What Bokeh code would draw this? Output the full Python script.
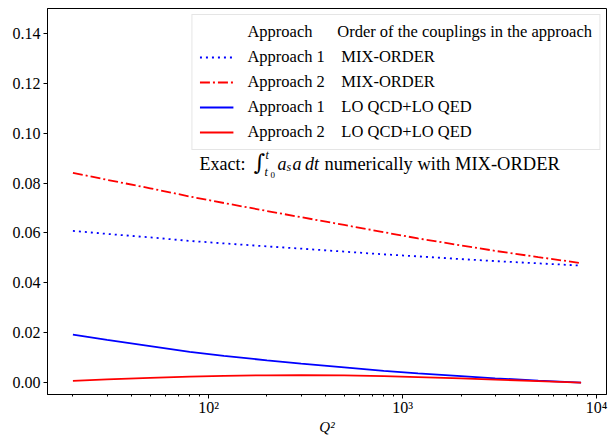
import numpy as np
from bokeh.plotting import figure
from bokeh.models import (Range1d, FixedTicker, Legend, LegendItem, Label,
                          CustomJSTickFormatter, PrintfTickFormatter)
from bokeh.embed import file_html
from bokeh.resources import INLINE

# ---------------- data ----------------
q2 = [20, 30, 50, 80, 120, 200, 300, 500, 800, 1200, 2000, 3000, 5000, 8315]
app1_mix = [0.0608, 0.0596, 0.0582, 0.0568, 0.0558, 0.0546, 0.0537, 0.0525,
            0.0514, 0.0506, 0.0495, 0.0487, 0.0478, 0.0469]
app2_mix = [0.0841, 0.0813, 0.0779, 0.0746, 0.0720, 0.0688, 0.0663, 0.0632,
            0.0603, 0.0578, 0.0550, 0.0528, 0.0503, 0.0479]
app1_lo = [0.0192, 0.0171, 0.0146, 0.0123, 0.0107, 0.0089, 0.0076, 0.0061,
           0.0047, 0.0037, 0.0026, 0.0017, 0.0008, 0.0000]
app2_lo = [0.0007, 0.0013, 0.0019, 0.0024, 0.0027, 0.0029, 0.0030, 0.0029,
           0.0026, 0.0022, 0.0017, 0.0012, 0.0006, 0.0000]

x_major = [100, 1000, 10000]
x_major_labels = ["10²", "10³", "10⁴"]
x_minor = [20, 30, 40, 50, 60, 70, 80, 90,
           200, 300, 400, 500, 600, 700, 800, 900,
           2000, 3000, 4000, 5000, 6000, 7000, 8000, 9000]
y_ticks = [0.00, 0.02, 0.04, 0.06, 0.08, 0.10, 0.12, 0.14]
y_limits = [-0.0048, 0.15]

legend_header = ["Approach", "Order of the couplings in the approach"]
legend_approach = ["Approach 1", "Approach 2", "Approach 1", "Approach 2"]
legend_order = ["MIX-ORDER", "MIX-ORDER", "LO QCD+LO QED", "LO QCD+LO QED"]

x_label = "Q²"

# ---------------- figure ----------------
FONT = "Liberation Serif"
lo, hi = np.log10(min(q2)), np.log10(max(q2))
pad = 0.05 * (hi - lo)

W, H = 609, 437
p = figure(width=W, height=H, x_axis_type="log",
           x_range=Range1d(10 ** (lo - pad), 10 ** (hi + pad)),
           y_range=Range1d(*y_limits),
           output_backend="svg", toolbar_location=None, title=None,
           min_border_left=47, min_border_right=3,
           min_border_top=8, min_border_bottom=42)

p.xgrid.visible = False
p.ygrid.visible = False
p.outline_line_color = "black"
p.outline_line_width = 1
p.background_fill_color = "white"
p.border_fill_color = "white"

for ax in (p.xaxis[0], p.yaxis[0]):
    ax.axis_line_color = "black"
    ax.major_tick_line_color = "black"
    ax.minor_tick_line_color = "black"
    ax.major_tick_out = 4
    ax.major_tick_in = 0
    ax.minor_tick_out = 2
    ax.minor_tick_in = 0
    ax.major_label_text_font = FONT
    ax.major_label_text_font_size = "16px"
    ax.major_label_text_color = "black"
    ax.major_label_text_line_height = 1.0

p.xaxis.ticker = FixedTicker(ticks=x_major, minor_ticks=x_minor)
p.xaxis.formatter = CustomJSTickFormatter(
    args=dict(majors=x_major, names=x_major_labels),
    code="const i = majors.indexOf(tick); return i >= 0 ? names[i] : '';")
p.xaxis.major_label_standoff = 0
p.xaxis.axis_label = x_label
p.xaxis.axis_label_text_font = FONT
p.xaxis.axis_label_text_font_size = "15px"
p.xaxis.axis_label_text_font_style = "italic"
p.xaxis.axis_label_text_color = "black"
p.xaxis.axis_label_text_line_height = 1.0
p.xaxis.axis_label_standoff = 0

p.yaxis.ticker = FixedTicker(ticks=y_ticks, minor_ticks=[])
p.yaxis.formatter = PrintfTickFormatter(format="%.2f")
p.yaxis.major_label_standoff = 3

# ---------------- lines ----------------
LW = 1.8
r0 = p.line(x=[], y=[], line_alpha=0)
r1 = p.line(q2, app1_mix, line_color="blue", line_width=LW, line_dash="2 4")
r2 = p.line(q2, app2_mix, line_color="red", line_width=LW, line_dash="10 3 2 3")
r3 = p.line(q2, app1_lo, line_color="blue", line_width=LW)
r4 = p.line(q2, app2_lo, line_color="red", line_width=LW)

nb = "\u00a0"
items = [LegendItem(label=legend_header[0] + nb * 6 + legend_header[1], renderers=[r0])]
for a, o, r in zip(legend_approach, legend_order, [r1, r2, r3, r4]):
    items.append(LegendItem(label=a + nb * 4 + o, renderers=[r]))

legend = Legend(items=items, location="top_right", margin=6, padding=7,
                spacing=5, label_height=18, glyph_height=18, glyph_width=34,
                label_standoff=14, label_text_font=FONT,
                label_text_font_size="16.5px", label_text_color="black",
                border_line_color="#cccccc", border_line_width=1,
                background_fill_color="white", background_fill_alpha=0.8)
p.add_layout(legend)

# ---------------- annotation ----------------
def lab(x, y, text, size, style="normal", font=FONT):
    p.add_layout(Label(x=x, y=y, x_units="screen", y_units="screen", text=text,
                       text_font=font, text_font_size=size,
                       text_font_style=style, text_color="black",
                       text_baseline="alphabetic", text_align="left"))

lab(152, 231, "Exact:", "18px")
lab(206, 232, "∫", "22px", font="DejaVu Serif")
lab(218, 240, "t", "12px", "italic")
lab(217, 223, "t", "12px", "italic")
lab(223, 220, "0", "9px")
lab(230, 231, "a", "18px", "italic")
lab(239, 228, "s", "12px", "italic")
lab(245, 231, "a\u2009dt", "18px", "italic")
lab(277, 231, "numerically with MIX-ORDER", "18.5px")

open("out.html", "w").write(file_html(p, INLINE))
